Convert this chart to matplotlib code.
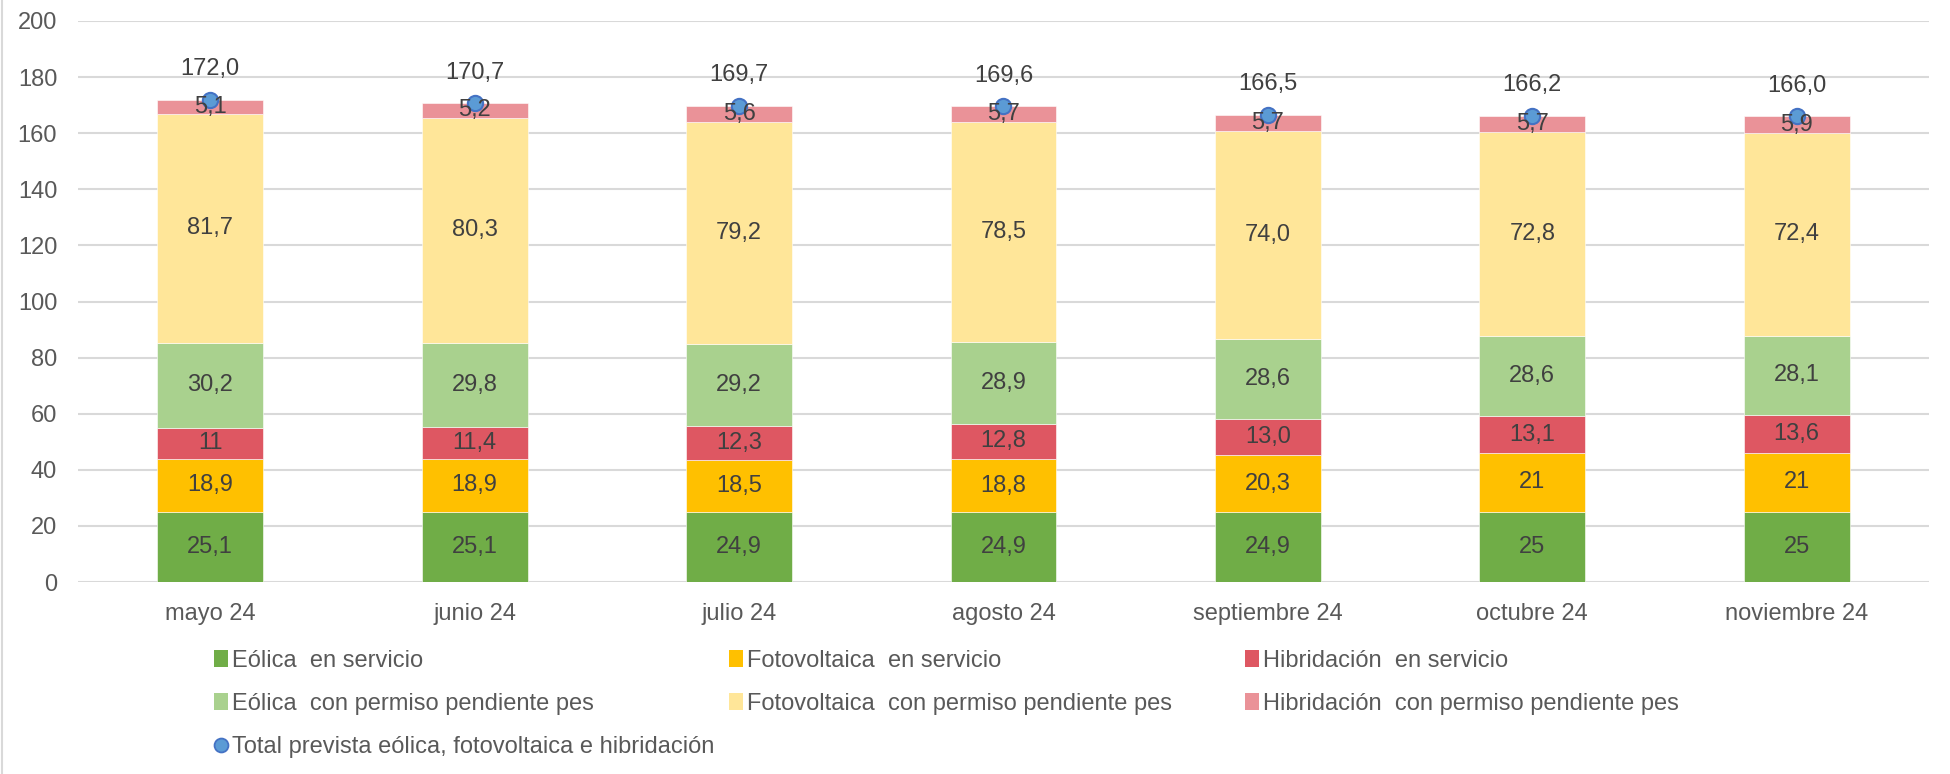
import matplotlib
matplotlib.use("Agg")
import matplotlib.pyplot as plt
import numpy as np
from matplotlib.lines import Line2D
from matplotlib.patches import Patch

months = ["mayo 24", "junio 24", "julio 24", "agosto 24", "septiembre 24", "octubre 24", "noviembre 24"]

eolica_serv = [25.1, 25.1, 24.9, 24.9, 24.9, 25.0, 25.0]
foto_serv = [18.9, 18.9, 18.5, 18.8, 20.3, 21.0, 21.0]
hibr_serv = [11.0, 11.4, 12.3, 12.8, 13.0, 13.1, 13.6]
eolica_pend = [30.2, 29.8, 29.2, 28.9, 28.6, 28.6, 28.1]
foto_pend = [81.7, 80.3, 79.2, 78.5, 74.0, 72.8, 72.4]
hibr_pend = [5.1, 5.2, 5.6, 5.7, 5.7, 5.7, 5.9]
total = [172.0, 170.7, 169.7, 169.6, 166.5, 166.2, 166.0]

eolica_serv_lbl = ["25,1", "25,1", "24,9", "24,9", "24,9", "25", "25"]
foto_serv_lbl = ["18,9", "18,9", "18,5", "18,8", "20,3", "21", "21"]
hibr_serv_lbl = ["11", "11,4", "12,3", "12,8", "13,0", "13,1", "13,6"]
eolica_pend_lbl = ["30,2", "29,8", "29,2", "28,9", "28,6", "28,6", "28,1"]
foto_pend_lbl = ["81,7", "80,3", "79,2", "78,5", "74,0", "72,8", "72,4"]
hibr_pend_lbl = ["5,1", "5,2", "5,6", "5,7", "5,7", "5,7", "5,9"]
total_lbl = ["172,0", "170,7", "169,7", "169,6", "166,5", "166,2", "166,0"]

series_names = [
    "Eólica  en servicio",
    "Fotovoltaica  en servicio",
    "Hibridación  en servicio",
    "Eólica  con permiso pendiente pes",
    "Fotovoltaica  con permiso pendiente pes",
    "Hibridación  con permiso pendiente pes",
]
total_name = "Total prevista eólica, fotovoltaica e hibridación"
colors = ["#70AD47", "#FFC000", "#DE5762", "#A9D18E", "#FFE699", "#EA9298"]

series = [eolica_serv, foto_serv, hibr_serv, eolica_pend, foto_pend, hibr_pend]
labels = [eolica_serv_lbl, foto_serv_lbl, hibr_serv_lbl, eolica_pend_lbl, foto_pend_lbl, hibr_pend_lbl]

plt.rcParams['font.family'] = ['Liberation Sans', 'DejaVu Sans']
FS = 17

fig = plt.figure(figsize=(19.5, 7.74), dpi=100)
ax = fig.add_axes([0.0400, 0.248, 0.9492, 0.7249])

x = np.arange(len(months))
bottom = np.zeros(len(months))
handles = []
for vals, lbls, col, name in zip(series, labels, colors, series_names):
    vals = np.array(vals)
    ax.bar(x, vals, width=0.4, bottom=bottom, color=col, edgecolor='white', linewidth=0.4, zorder=2)
    for xi, b, v, t in zip(x, bottom, vals, lbls):
        ax.text(xi, b + v / 2, t, ha='center', va='center', fontsize=FS, color='#404040', zorder=4)
    bottom = bottom + vals
    handles.append(Patch(facecolor=col, edgecolor='none', label=name))

ax.plot(x, total, linestyle='none', marker='o', markersize=11, markerfacecolor='#5B9BD5',
        markeredgecolor='#4472C4', markeredgewidth=1.5, zorder=3)
for xi, v, t in zip(x, total, total_lbl):
    ax.annotate(t, (xi, v), xytext=(0, 22), textcoords='offset points', ha='center', va='center',
                fontsize=FS, color='#404040')

ax.set_xlim(-0.5, len(months) - 0.5)
ax.set_ylim(0, 200)
ax.set_yticks(np.arange(0, 201, 20))
ax.set_xticks(x)
ax.set_xticklabels(months, fontsize=FS, color='#595959')
ax.tick_params(axis='y', labelsize=FS, labelcolor='#595959', length=0, pad=15)
ax.tick_params(axis='x', length=0, pad=15)
ax.grid(axis='y', color='#D9D9D9', linewidth=1.5, zorder=0)
ax.set_axisbelow(True)
for s in ax.spines.values():
    s.set_visible(False)

total_handle = Line2D([], [], linestyle='none', marker='o', markersize=10, markerfacecolor='#5B9BD5',
                      markeredgecolor='#4472C4', markeredgewidth=1.3, label=total_name)

columns = [
    ([handles[0], handles[3], total_handle], 214),
    ([handles[1], handles[4]], 729),
    ([handles[2], handles[5]], 1245),
]
ROW_Y = [661.0, 704.0, 747.0]  # px from top, row centres in the reference
H = 774.0


def make_legends(ls, top):
    legs = []
    for hs, xpix in columns:
        leg = fig.legend(handles=hs, labels=[h.get_label() for h in hs], ncol=1,
                         loc='upper left', bbox_to_anchor=(xpix / 1950.0, top), frameon=False,
                         prop={'size': FS}, handlelength=0.58, handleheight=0.7,
                         handletextpad=0.2, labelspacing=ls, borderaxespad=0, borderpad=0)
        for t in leg.get_texts():
            t.set_color('#595959')
        legs.append(leg)
    return legs


ls, top = 0.8, 0.168
legs = make_legends(ls, top)
renderer = fig.canvas.get_renderer()
fig.canvas.draw()
ys = []
for t in legs[0].get_texts():
    e = t.get_window_extent(renderer)
    ys.append(H - (e.y0 + e.y1) / 2)
spacing = (ys[2] - ys[0]) / 2.0
size_px = FS * 100 / 72.0
ls_new = ls + ((ROW_Y[2] - ROW_Y[0]) / 2.0 - spacing) / size_px
for lg in legs:
    lg.remove()
legs = make_legends(ls_new, top)
fig.canvas.draw()
e0 = legs[0].get_texts()[0].get_window_extent(renderer)
y0 = H - (e0.y0 + e0.y1) / 2
top_new = top - (ROW_Y[0] - y0) / H
for lg in legs:
    lg.remove()
legs = make_legends(ls_new, top_new)

fig.add_artist(Line2D([0.0008, 0.0008], [0, 1], transform=fig.transFigure, color='#D9D9D9', linewidth=1.5))

fig.savefig("out.png", dpi=100)
